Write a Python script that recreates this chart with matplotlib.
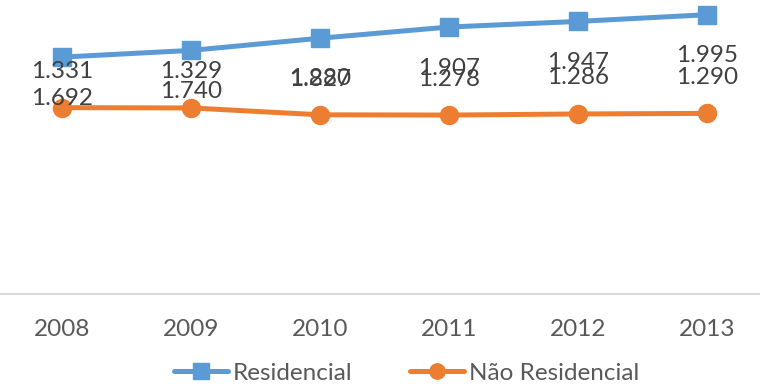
import matplotlib
matplotlib.use("Agg")
import matplotlib.pyplot as plt

years = ["2008", "2009", "2010", "2011", "2012", "2013"]
residencial = [1.692, 1.740, 1.827, 1.907, 1.947, 1.995]
nao_residencial = [1.331, 1.329, 1.280, 1.278, 1.286, 1.290]

blue = "#5B9BD5"
orange = "#ED7D31"
label_color = "#404040"
tick_color = "#595959"

plt.rcParams["font.family"] = ["Lato", "DejaVu Sans"]

fig = plt.figure(figsize=(7.6, 3.89), dpi=100)
ax = fig.add_axes([-2.5 / 760, 95 / 389, 774 / 760, 294 / 389])

x = list(range(len(years)))
ax.plot(x, residencial, color=blue, lw=3.6, marker="s", ms=13.5,
        label="Residencial", solid_capstyle="round", zorder=3)
ax.plot(x, nao_residencial, color=orange, lw=3.6, marker="o", ms=13,
        label="Não Residencial", solid_capstyle="round", zorder=3)

for xi, v in zip(x, residencial):
    ax.annotate(f"{v:.3f}", (xi, v), xytext=(0, -41), textcoords="offset pixels",
                ha="center", va="center", fontsize=17.5, color=label_color)
for xi, v in zip(x, nao_residencial):
    ax.annotate(f"{v:.3f}", (xi, v), xytext=(0, 36), textcoords="offset pixels",
                ha="center", va="center", fontsize=17.5, color=label_color)

ax.set_xlim(-0.5, 5.5)
ax.set_ylim(0, 2.1)
ax.set_xticks(x)
ax.set_xticklabels(years, fontsize=17.5, color=tick_color)
ax.tick_params(axis="x", length=0, pad=18)
ax.set_yticks([])
for side in ["top", "left", "right"]:
    ax.spines[side].set_visible(False)
ax.spines["bottom"].set_color("#D9D9D9")
ax.spines["bottom"].set_linewidth(1.5)

leg = fig.legend(loc="center", bbox_to_anchor=(0.535, 16 / 389), ncol=2,
                 frameon=False, fontsize=17.5, handlelength=2.2,
                 handletextpad=0.2, columnspacing=2.4, markerscale=0.85)
for t in leg.get_texts():
    t.set_color(tick_color)

fig.savefig("out.png", dpi=100)
